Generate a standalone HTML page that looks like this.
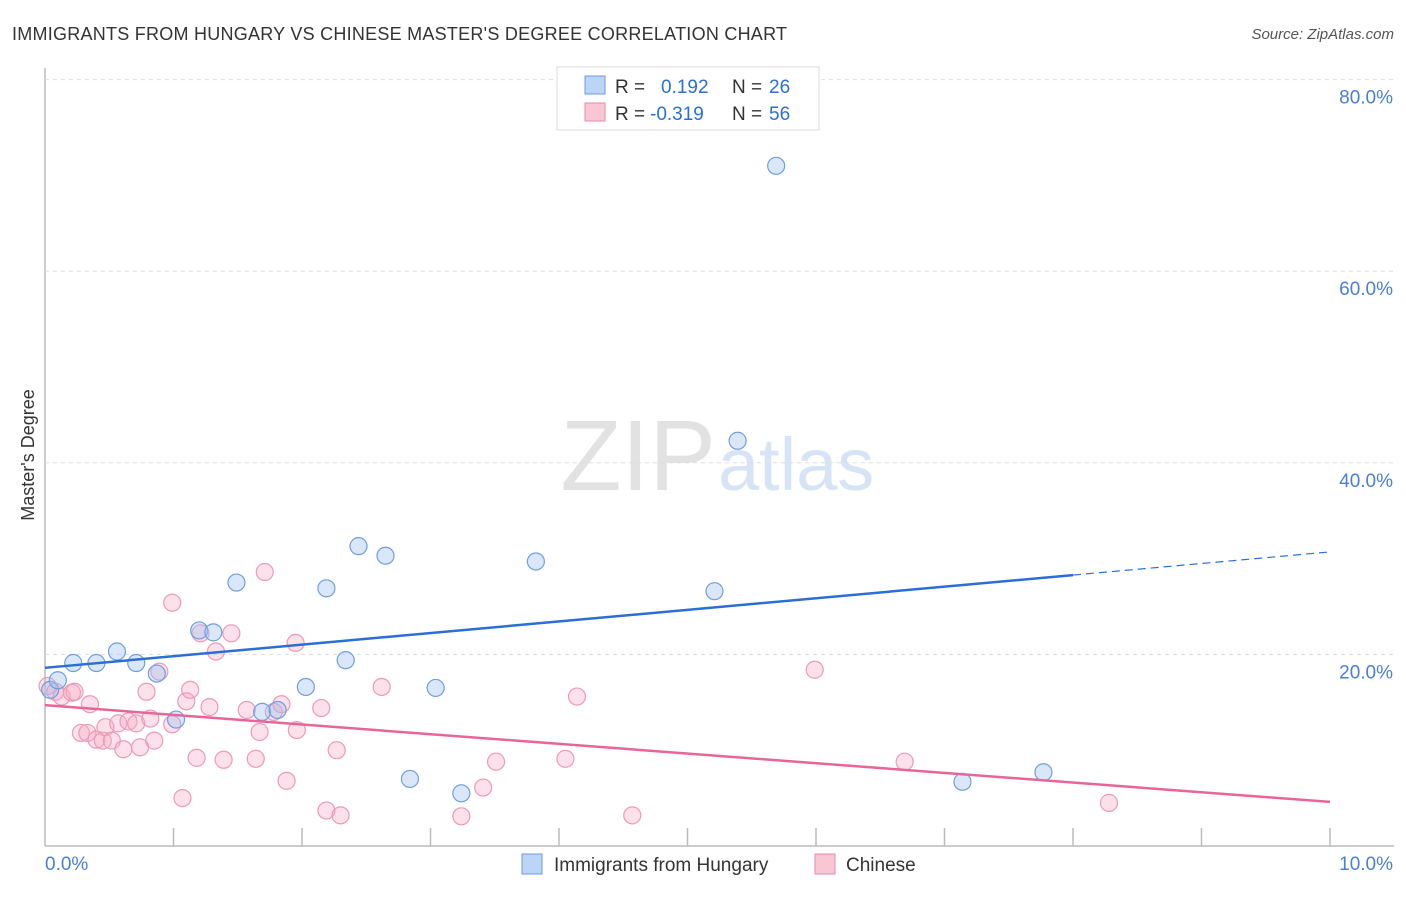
<!DOCTYPE html>
<html><head><meta charset="utf-8"><style>
body{margin:0;background:#fff;font-family:"Liberation Sans",sans-serif;}
svg text{font-family:"Liberation Sans",sans-serif;}
</style></head><body>
<svg id="chart" width="1406" height="892">
<text x="12" y="40" font-size="18" fill="#333" textLength="775">IMMIGRANTS FROM HUNGARY VS CHINESE MASTER'S DEGREE CORRELATION CHART</text>
<text x="1394" y="39" font-size="15" fill="#555" font-style="italic" text-anchor="end">Source: ZipAtlas.com</text>
<text x="716" y="490" font-size="100" fill="#e2e2e2" text-anchor="end" font-family="Liberation Serif">ZIP</text>
<text x="718" y="490" font-size="74" fill="#d6e4f6">atlas</text>
<text transform="translate(34,455) rotate(-90)" font-size="18" fill="#333" text-anchor="middle">Master's Degree</text>
<g id="grid"></g><g id="pts"></g><g id="lines"></g>
<g>
<rect x="557" y="67" width="262" height="63" fill="#fff" stroke="#ddd"/>
<rect x="585" y="76" width="20" height="18" fill="#bcd4f6" stroke="#6a9be0"/>
<rect x="585" y="103" width="20" height="18" fill="#f9c6d6" stroke="#e88aa8"/>
<text x="615" y="93" font-size="19" fill="#333">R = </text><text x="661" y="93" font-size="19" fill="#2a6fd6">0.192</text>
<text x="732" y="93" font-size="19" fill="#333">N = </text><text x="769" y="93" font-size="19" fill="#2a6fd6">26</text>
<text x="615" y="120" font-size="19" fill="#333">R = </text><text x="650" y="120" font-size="19" fill="#2a6fd6">-0.319</text>
<text x="732" y="120" font-size="19" fill="#333">N = </text><text x="769" y="120" font-size="19" fill="#2a6fd6">56</text>
</g>
<g>
<rect x="522" y="854" width="20" height="20" fill="#bcd4f6" stroke="#6a9be0"/>
<text x="554" y="871" font-size="19" fill="#333">Immigrants from Hungary</text>
<rect x="815" y="854" width="20" height="20" fill="#f9c6d6" stroke="#e88aa8"/>
<text x="846" y="871" font-size="19" fill="#333">Chinese</text>
</g>
</svg>
<script>
const yTicks=[20,40,60,80];
const xTickLabels=["0.0%","10.0%"];
const blueX=[0.04,0.10,0.22,0.40,0.56,0.71,0.87,1.02,1.20,1.31,1.49,1.69,1.81,2.03,2.19,2.34,2.44,2.65,2.84,3.04,3.24,3.82,5.21,5.39,5.69,7.14,7.77];
const blueY=[16.3,17.3,19.1,19.1,20.3,19.1,18.0,13.2,22.5,22.3,27.5,14.0,14.2,16.6,26.9,19.4,31.3,30.3,7.0,16.5,5.5,29.7,26.6,42.3,71.0,6.7,7.7];
const pinkX=[0.02,0.08,0.13,0.21,0.23,0.35,0.28,0.33,0.40,0.45,0.47,0.52,0.57,0.61,0.65,0.71,0.74,0.82,0.85,0.79,0.89,0.99,0.99,1.07,1.10,1.13,1.18,1.21,1.28,1.33,1.39,1.45,1.57,1.64,1.67,1.71,1.78,1.84,1.88,1.95,1.96,2.15,2.19,2.27,2.30,2.62,3.24,3.41,3.51,4.05,4.14,4.57,5.99,6.69,8.28];
const pinkY=[16.7,16.1,15.6,16.0,16.1,14.8,11.8,11.8,11.1,11.0,12.4,11.0,12.8,10.1,13.0,12.8,10.3,13.3,11.0,16.1,18.2,25.4,12.7,5.0,15.1,16.3,9.2,22.2,14.5,20.3,9.0,22.2,14.2,9.1,11.9,28.6,14.0,14.8,6.8,21.2,12.1,14.4,3.7,10.0,3.2,16.6,3.1,6.1,8.8,9.1,15.6,3.2,18.4,8.8,4.5];
const blueTrend=[18.6,30.7];
const pinkTrend=[14.7,4.6];
const blueSolidEnd=8.0;
const X=v=>45+v*128.5, Y=v=>846-v*9.58;
const NS="http://www.w3.org/2000/svg";
function mk(tag,attrs,parent){const e=document.createElementNS(NS,tag);for(const k in attrs)e.setAttribute(k,attrs[k]);document.getElementById(parent).appendChild(e);return e;}
let a=mk('line',{x1:45,y1:68,x2:45,y2:846,stroke:'#bbb','stroke-width':1.5},'grid');


let b=mk('line',{x1:45,y1:846,x2:1394,y2:846,stroke:'#bbb','stroke-width':1.5},'grid');


yTicks.forEach(t=>{
 const g=mk('line',{x1:45,y1:Y(t),x2:1394,y2:Y(t),stroke:'#ddd','stroke-dasharray':'4,4'},'grid');
 
 
 const l=mk('text',{x:1393,y:Y(t)+24,'font-size':19,fill:'#4a7fd4','text-anchor':'end'},'grid');
 l.textContent=t.toFixed(1)+'%';
 
 
});
for(let i=1;i<=10;i++){
 const t=mk('line',{x1:X(i),y1:828,x2:X(i),y2:846,stroke:'#bbb','stroke-width':1.5},'grid');
 
 
}
const xl0=mk('text',{x:45,y:870,'font-size':19,fill:'#4a7fd4'},'grid');xl0.textContent=xTickLabels[0];


const xl1=mk('text',{x:1393,y:870,'font-size':19,fill:'#4a7fd4','text-anchor':'end'},'grid');xl1.textContent=xTickLabels[1];


pinkX.forEach((x,i)=>{
 const c=mk('circle',{cx:X(x),cy:Y(pinkY[i]),r:8.5,fill:'rgba(246,170,195,0.35)',stroke:'#ec9ab5','stroke-width':1.2},'pts');
 
 
});
blueX.forEach((x,i)=>{
 const c=mk('circle',{cx:X(x),cy:Y(blueY[i]),r:8.5,fill:'rgba(160,196,240,0.4)',stroke:'#6f9fe0','stroke-width':1.2},'pts');
 
 
});
const bAt=v=>blueTrend[0]+(blueTrend[1]-blueTrend[0])*v/10;
const l1=mk('line',{x1:X(0),y1:Y(blueTrend[0]),x2:X(blueSolidEnd),y2:Y(bAt(blueSolidEnd)),stroke:'#2a6fd6','stroke-width':2.5},'lines');


const l2=mk('line',{x1:X(blueSolidEnd),y1:Y(bAt(blueSolidEnd)),x2:X(10),y2:Y(blueTrend[1]),stroke:'#2a6fd6','stroke-width':1.2,'stroke-dasharray':'8,5'},'lines');


const l3=mk('line',{x1:X(0),y1:Y(pinkTrend[0]),x2:X(10),y2:Y(pinkTrend[1]),stroke:'#e8659a','stroke-width':2.5},'lines');


</script>
</body></html>
